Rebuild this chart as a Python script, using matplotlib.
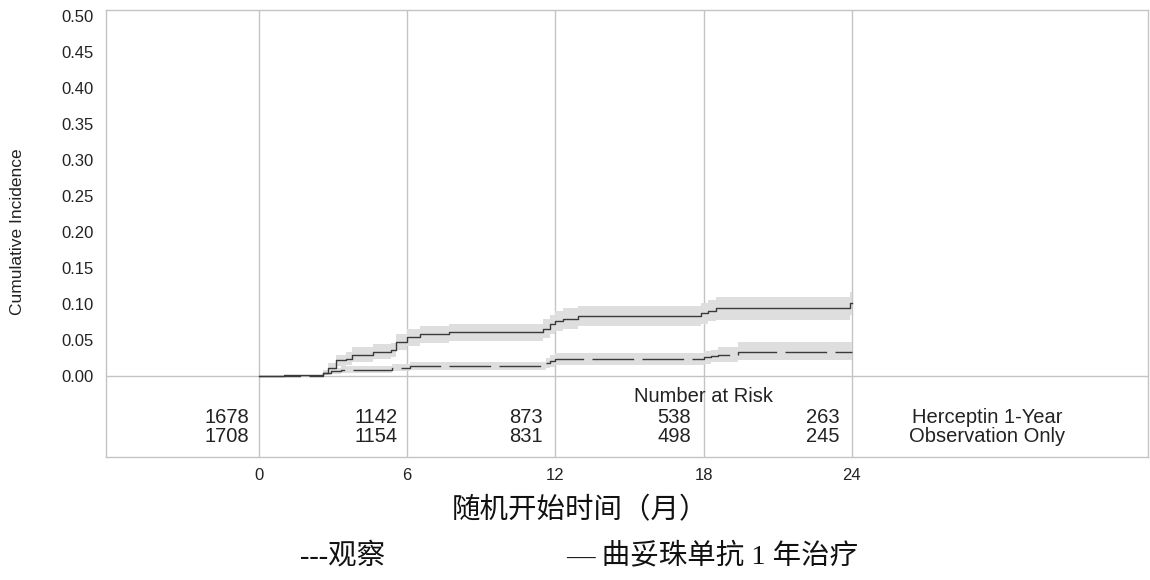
import matplotlib
matplotlib.use("Agg")
import matplotlib.pyplot as plt

plt.rcParams["font.family"] = ["Liberation Sans", "DejaVu Sans"]

# Cumulative incidence, Herceptin 1-Year arm (solid) with confidence band
herc_time = [0, 1.0, 2.6, 2.8, 3.1, 3.5, 3.75, 4.6, 5.35, 5.55, 6.0, 6.5, 7.7,
             11.5, 11.8, 12.0, 12.3, 12.9, 17.9, 18.2, 18.5, 23.95, 24.0]
herc_inc = [0, 0.001, 0.004, 0.012, 0.022, 0.024, 0.030, 0.034, 0.036, 0.0475,
            0.054, 0.058, 0.061, 0.066, 0.072, 0.077, 0.080, 0.084, 0.087,
            0.091, 0.094, 0.101, 0.101]
herc_lower = [0, 0.000, 0.001, 0.006, 0.014, 0.015, 0.020, 0.024, 0.026, 0.036,
              0.042, 0.046, 0.049, 0.053, 0.059, 0.063, 0.066, 0.070, 0.073,
              0.076, 0.078, 0.085, 0.085]
herc_upper = [0, 0.002, 0.008, 0.018, 0.030, 0.033, 0.040, 0.044, 0.046, 0.058,
              0.066, 0.070, 0.073, 0.079, 0.085, 0.091, 0.094, 0.098, 0.101,
              0.106, 0.110, 0.117, 0.117]

# Observation Only arm (dashed)
obs_time = [0, 2.6, 2.9, 3.3, 5.4, 6.1, 11.6, 11.8, 12.0, 18.0, 18.3, 18.6, 19.4, 24.0]
obs_inc = [0, 0.004, 0.007, 0.009, 0.012, 0.014, 0.018, 0.021, 0.0235, 0.026,
           0.028, 0.030, 0.034, 0.034]
obs_lower = [0, 0.001, 0.003, 0.004, 0.007, 0.008, 0.011, 0.013, 0.015, 0.017,
             0.019, 0.020, 0.023, 0.023]
obs_upper = [0, 0.007, 0.011, 0.014, 0.017, 0.020, 0.025, 0.029, 0.032, 0.035,
             0.037, 0.040, 0.048, 0.048]

# Number at risk table
risk_months = [0, 6, 12, 18, 24]
risk_herc = [1678, 1142, 873, 538, 263]
risk_obs = [1708, 1154, 831, 498, 245]
group_labels = ["Herceptin 1-Year", "Observation Only"]

y_ticks = [0.00, 0.05, 0.10, 0.15, 0.20, 0.25, 0.30, 0.35, 0.40, 0.45, 0.50]

GRID = "#c4c4c4"
BAND = "#dedede"
LINE = "#3a3a3a"
TEXT = "#222222"

fig = plt.figure(figsize=(11.5, 5.8), dpi=100)
ax = fig.add_axes([106 / 1150, 1 - 457 / 580, 1042 / 1150, 447 / 580])

ax.fill_between(herc_time, herc_lower, herc_upper, step="post", color=BAND, lw=0)
ax.fill_between(obs_time, obs_lower, obs_upper, step="post", color=BAND, lw=0)
ax.plot(herc_time, herc_inc, drawstyle="steps-post", color=LINE, lw=1.0)
ax.plot(obs_time, obs_inc, drawstyle="steps-post", color=LINE, lw=1.0,
        linestyle=(0, (30, 6)))

ax.set_xlim(-6.2, 36)
ax.set_ylim(-0.1122, 0.5083)

# grid: verticals at the risk-table months, horizontal at zero
for m in risk_months:
    ax.axvline(m, color=GRID, lw=1.0, zorder=0)
ax.axhline(0, color=GRID, lw=1.0, zorder=0.5)

for sp in ax.spines.values():
    sp.set_color(GRID)
    sp.set_linewidth(1.0)

ax.set_yticks(y_ticks)
ax.set_yticklabels([f"{v:.2f}" for v in y_ticks], fontsize=12, color=TEXT)
ax.set_xticks(risk_months)
ax.set_xticklabels([str(m) for m in risk_months], fontsize=12, color=TEXT)
ax.tick_params(length=0)
ax.tick_params(axis="y", pad=9)
ax.tick_params(axis="x", pad=8)

fig.text(18 / 1150, 1 - 232 / 580, "Cumulative Incidence", rotation=90,
         ha="center", va="center", fontsize=12.5, color=TEXT)

# number at risk
ax.text(18, -0.0277, "Number at Risk", ha="center", va="center", fontsize=14.5,
        color=TEXT)
risk_x = [-0.4, 5.6, 11.5, 17.5, 23.5]
for x, a, b in zip(risk_x, risk_herc, risk_obs):
    ax.text(x, -0.0568, str(a), ha="right", va="center", fontsize=14.5, color=TEXT)
    ax.text(x, -0.0831, str(b), ha="right", va="center", fontsize=14.5, color=TEXT)
ax.text(29.5, -0.0568, group_labels[0], ha="center", va="center", fontsize=14.5,
        color=TEXT)
ax.text(29.5, -0.0831, group_labels[1], ha="center", va="center", fontsize=14.5,
        color=TEXT)

cjk = ["Liberation Serif", "Noto Sans CJK SC"]
fig.text(580 / 1150, 1 - 511 / 580, "随机开始时间（月）", ha="center", va="center",
         fontsize=20.5, family=cjk, weight="light", color="#111111")
fig.text(300 / 1150, 1 - 556 / 580, "---观察", ha="left", va="center",
         fontsize=20.5, family=cjk, weight="light", color="#111111")
fig.text(566 / 1150, 1 - 556 / 580, "— 曲妥珠单抗 1 年治疗", ha="left", va="center",
         fontsize=20.5, family=cjk, weight="light", color="#111111")

fig.savefig("out.png", dpi=100, facecolor="white")
